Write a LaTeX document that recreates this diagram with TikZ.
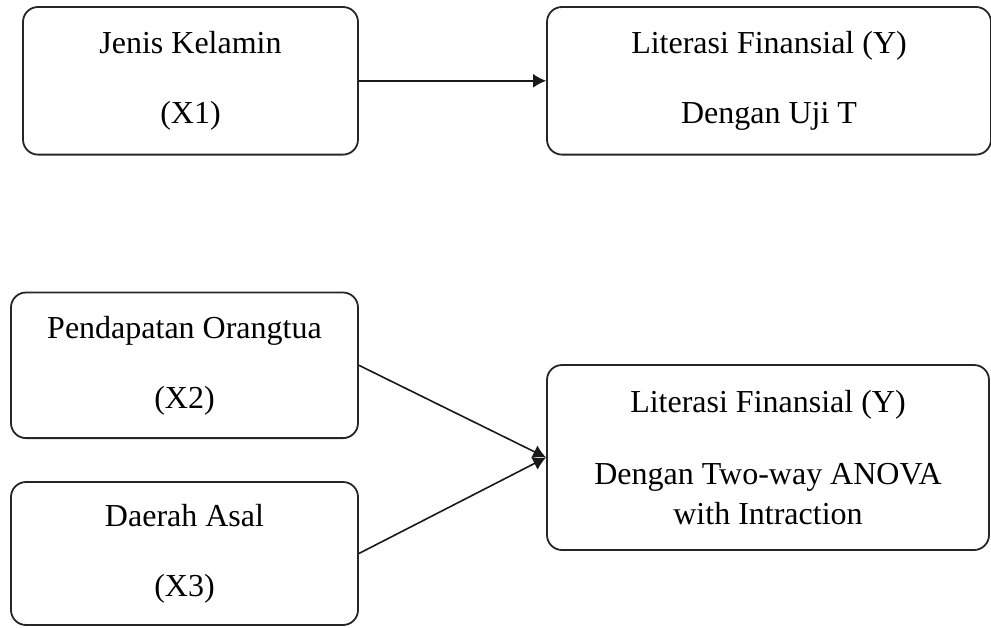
\documentclass[tikz,border=0pt]{standalone}
\usepackage{fontspec}
\setmainfont{Liberation Serif}
\usetikzlibrary{arrows.meta}
\begin{document}
\begin{tikzpicture}[x=0.5pt,y=-0.5pt,
  box/.style={draw=black!85, line width=0.9pt, rounded corners=7.5pt, align=center, inner sep=0pt,
    font=\fontsize{16}{20}\selectfont},
  arr/.style={draw=black!90, line width=0.8pt, -{Latex[length=6.5pt,width=7pt]}}]
\useasboundingbox (0,0) rectangle (991,627);
\node [box, minimum width=167.5pt, minimum height=73.8pt] (jk) at (190.5,80.8) {Jenis Kelamin\\[15pt](X1)};
\node [box, minimum width=222pt, minimum height=73.8pt] (lft) at (769,80.8) {Literasi Finansial (Y)\\[15pt]Dengan Uji T};
\node [box, minimum width=173.5pt, minimum height=72.8pt] (po) at (184.5,365.3) {Pendapatan Orangtua\\[15pt](X2)};
\node [box, minimum width=173.5pt, minimum height=71.5pt] (da) at (184.5,553.5) {Daerah Asal\\[15pt](X3)};
\node [box, minimum width=221pt, minimum height=92.5pt] (lfa) at (768,457.5) {Literasi Finansial (Y)\\[16pt]Dengan Two-way ANOVA\\with Intraction};
\draw [arr] (jk) -- (lft);
\draw [arr] (po.east) -- (lfa.west);
\draw [arr] (da.east) -- (lfa.west);
\end{tikzpicture}
\end{document}
